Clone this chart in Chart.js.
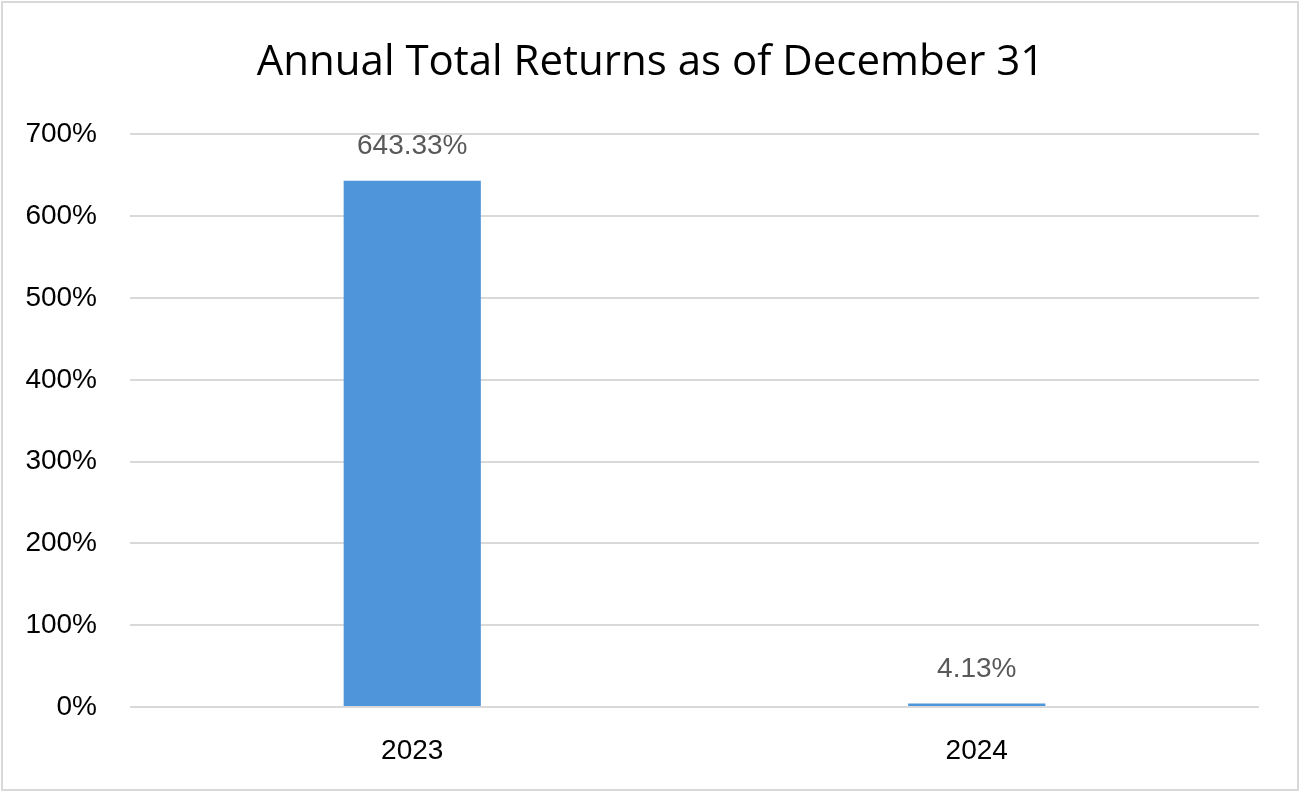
<!DOCTYPE html>
<html>
<head>
<meta charset="utf-8">
<script src="https://cdn.jsdelivr.net/npm/chart.js@4/dist/chart.umd.min.js"></script>
<style>
  html, body { margin: 0; padding: 0; background: #fff; }
  #frame { position: absolute; left: 1px; top: 1px; width: 1298px; height: 790px; box-sizing: border-box; border: 2px solid #d9d9d9; }
  #wrap { position: absolute; left: 0; top: 0; width: 1301px; height: 793px; }
</style>
</head>
<body>
<div id="frame"></div>
<div id="wrap"><canvas id="chart"></canvas></div>
<script>
  // data
  const years = ['2023', '2024'];
  const returns = [643.33, 4.13];
  const yTicks = [0, 100, 200, 300, 400, 500, 600, 700];

  const FONT = '"Liberation Sans", Arial, sans-serif';

  // labels above bars
  const valueLabels = {
    id: 'valueLabels',
    afterDatasetsDraw(chart) {
      const ctx = chart.ctx;
      const meta = chart.getDatasetMeta(0);
      ctx.save();
      ctx.font = '28px ' + FONT;
      ctx.fillStyle = '#595959';
      ctx.textAlign = 'center';
      ctx.textBaseline = 'middle';
      meta.data.forEach((bar, i) => {
        ctx.fillText(returns[i].toFixed(2) + '%', bar.x, bar.y - 34);
      });
      ctx.restore();
    }
  };

  new Chart(document.getElementById('chart'), {
    type: 'bar',
    data: {
      labels: years,
      datasets: [{
        data: returns,
        backgroundColor: '#4f95d9',
        borderWidth: 0,
        categoryPercentage: 1,
        barPercentage: 0.243
      }]
    },
    plugins: [valueLabels],
    options: {
      responsive: true,
      maintainAspectRatio: false,
      animation: false,
      layout: { padding: { left: 0, right: 0, top: 38, bottom: 0 } },
      plugins: {
        legend: { display: false },
        tooltip: { enabled: false },
        title: {
          display: true,
          text: 'Annual Total Returns as of December 31',
          color: '#000',
          font: { family: '"Open Sans", sans-serif', size: 42, weight: 'normal', lineHeight: 1.2 },
          padding: { top: 0, bottom: 46 }
        }
      },
      scales: {
        x: {
          grid: { display: false },
          border: { display: false },
          ticks: { color: '#000', font: { family: FONT, size: 28 }, padding: 19 },
          afterFit(s) { s.height = 86; }
        },
        y: {
          min: 0,
          max: 700,
          afterBuildTicks(s) { s.ticks = yTicks.map(v => ({ value: v })); },
          grid: { color: '#d9d9d9', lineWidth: 2, drawTicks: false },
          border: { display: false },
          ticks: {
            color: '#000',
            font: { family: FONT, size: 28 },
            padding: 33,
            callback: v => v + '%'
          },
          afterFit(s) { s.width = 130; }
        },
        // empty right margin so the title stays centred on the page
        yRight: {
          position: 'right',
          grid: { display: false },
          border: { display: false },
          ticks: { display: false },
          afterFit(s) { s.width = 42; }
        }
      }
    }
  });
</script>
</body>
</html>
